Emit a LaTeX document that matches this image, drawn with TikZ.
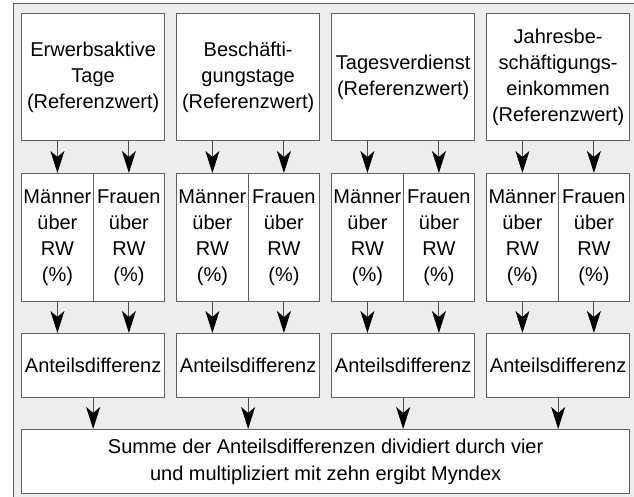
\documentclass[tikz,border=0pt]{standalone}
\usepackage{fontspec}
\setmainfont{Liberation Sans}
\usetikzlibrary{arrows.meta}
\definecolor{bg}{gray}{0.93}
\definecolor{edge}{gray}{0.38}
\definecolor{shaft}{gray}{0.3}
\tikzset{
  box/.style={draw=edge, line width=1.3pt, fill=white, inner sep=0pt, align=center,
    anchor=north west, font=\fontsize{20}{26}\selectfont},
  arr/.style={draw=shaft, line width=1pt,
    -{Stealth[length=22pt,width=14pt,inset=6pt,color=black]}}
}
\begin{document}
\begin{tikzpicture}[x=1pt,y=-1pt]
\useasboundingbox (0,0) rectangle (634,497);
\fill[bg] (13,4) rectangle (634,497);
\draw[edge, line width=1pt] (13,497) -- (13,4) -- (634,4);
\foreach \i/\x/\txt in {1/21/{Erwerbsaktive\\Tage\\(Referenzwert)},
                        2/176/{Beschäfti-\\gungstage\\(Referenzwert)},
                        3/331/{Tagesverdienst\\(Referenzwert)},
                        4/486/{Jahresbe-\\schäftigungs-\\einkommen\\(Referenzwert)}} {
  \node[box, minimum width=143pt, minimum height=127pt] (t\i) at (\x,13) {\txt};
  \node[box, minimum width=71.5pt, minimum height=128pt] (m\i) at (\x,173) {Männer\\über\\RW\\(\%)};
  \node[box, minimum width=71.5pt, minimum height=128pt] (f\i) at (\x+71.5,173) {Frauen\\über\\RW\\(\%)};
  \node[box, minimum width=143pt, minimum height=63.5pt] (a\i) at (\x,333) {Anteilsdifferenz};
}
\node[box, minimum width=608pt, minimum height=64pt, font=\fontsize{20}{27}\selectfont] (s) at (21,429)
  {Summe der Anteilsdifferenzen dividiert durch vier\\und multipliziert mit zehn ergibt Myndex};
\foreach \i in {1,...,4} {
  \draw[arr] (m\i.north |- t\i.south) -- (m\i.north);
  \draw[arr] (f\i.north |- t\i.south) -- (f\i.north);
  \draw[arr] (m\i.south) -- (m\i.south |- a\i.north);
  \draw[arr] (f\i.south) -- (f\i.south |- a\i.north);
  \draw[arr] (a\i.south) -- (a\i.south |- s.north);
}
\end{tikzpicture}
\end{document}
